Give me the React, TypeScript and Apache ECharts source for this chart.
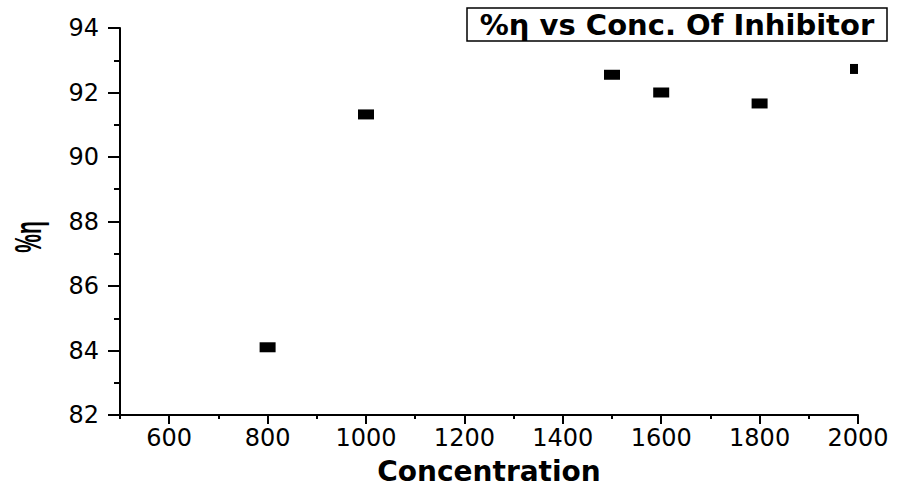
import React, { useEffect, useRef } from "react";
import * as echarts from "echarts";

const xValues = [800, 1000, 1500, 1600, 1800, 2000];
const yValues = [84.1, 91.32, 92.55, 92.0, 91.66, 92.73];
const xMajorTicks = [600, 800, 1000, 1200, 1400, 1600, 1800, 2000];
const xMinorTicks = [500, 700, 900, 1100, 1300, 1500, 1700, 1900];
const xMin = 500;
const xMax = 2000;
const yMin = 82;
const yMax = 94;
const yStep = 2;
const titleText = "%η vs Conc. Of Inhibitor";
const xName = "Concentration";
const yName = "%η";

export default function App() {
  const ref = useRef<HTMLDivElement>(null);
  useEffect(() => {
    if (!ref.current) return;
    const chart = echarts.init(ref.current, null, { renderer: "svg" });
    const black = "#000";
    const data = xValues.map((x, i) =>
      x >= xMax
        ? { value: [x, yValues[i]], symbolSize: [8, 10], symbolOffset: [-4, 0] }
        : { value: [x, yValues[i]] }
    );
    chart.setOption({
      animation: false,
      backgroundColor: "#fff",
      grid: { left: 120, right: 39, top: 28, bottom: 72, outerBoundsMode: "none", containLabel: false },
      xAxis: [
        {
          type: "value",
          min: xMin,
          max: xMax,
          interval: 100,
          position: "bottom",
          name: xName,
          nameLocation: "middle",
          nameGap: 42,
          nameTextStyle: {
            color: black,
            fontFamily: "DejaVu Sans",
            fontWeight: "bold",
            fontSize: 28,
            lineHeight: 28,
          },
          axisLine: { show: true, lineStyle: { color: black, width: 2 } },
          axisTick: {
            show: true,
            length: 9,
            customValues: xMajorTicks,
            lineStyle: { color: black, width: 2 },
          },
          axisLabel: {
            customValues: xMajorTicks,
            formatter: (v: number) => String(v),
            color: black,
            fontFamily: "DejaVu Sans",
            fontSize: 24,
            margin: 11,
          },
          splitLine: { show: false },
        },
        {
          type: "value",
          min: xMin,
          max: xMax,
          interval: 100,
          position: "bottom",
          offset: 0,
          axisLine: { show: false },
          axisTick: {
            show: true,
            length: 4,
            customValues: xMinorTicks,
            lineStyle: { color: black, width: 2 },
          },
          axisLabel: { show: false },
          splitLine: { show: false },
        },
      ],
      yAxis: {
        type: "value",
        min: yMin,
        max: yMax,
        interval: yStep,
        axisLine: { show: true, lineStyle: { color: black, width: 2 } },
        axisTick: { show: true, length: 12, lineStyle: { color: black, width: 2 } },
        minorTick: {
          show: true,
          splitNumber: 2,
          length: 6,
          lineStyle: { color: black, width: 2 },
        },
        axisLabel: {
          formatter: (v: number) => String(v),
          color: black,
          fontFamily: "DejaVu Sans",
          fontSize: 24,
          margin: 21,
        },
        splitLine: { show: false },
        minorSplitLine: { show: false },
      },
      graphic: [
        {
          type: "rect",
          shape: { x: 467, y: 8, width: 420, height: 33 },
          style: { fill: "#fff", stroke: black, lineWidth: 1.5 },
          z: 10,
        },
        {
          type: "text",
          x: 677,
          y: 25,
          z: 11,
          style: {
            text: titleText,
            fill: black,
            font: "bold 29px 'DejaVu Sans'",
            align: "center",
            verticalAlign: "middle",
          },
        },
        {
          type: "text",
          x: 27,
          y: 237,
          rotation: Math.PI / 2,
          scaleX: 0.75,
          scaleY: 1.35,
          style: {
            text: yName,
            fill: black,
            font: "bold 28px 'Liberation Sans'",
            align: "center",
            verticalAlign: "middle",
          },
        },
      ],
      series: [
        {
          type: "scatter",
          xAxisIndex: 0,
          symbol: "rect",
          symbolSize: [16, 10],
          clip: false,
          itemStyle: { color: black, opacity: 1 },
          data,
        },
      ],
    });
    return () => chart.dispose();
  }, []);
  return (
    <div
      ref={ref}
      style={{ position: "absolute", left: 0, top: 0, width: 897, height: 487 }}
    />
  );
}
